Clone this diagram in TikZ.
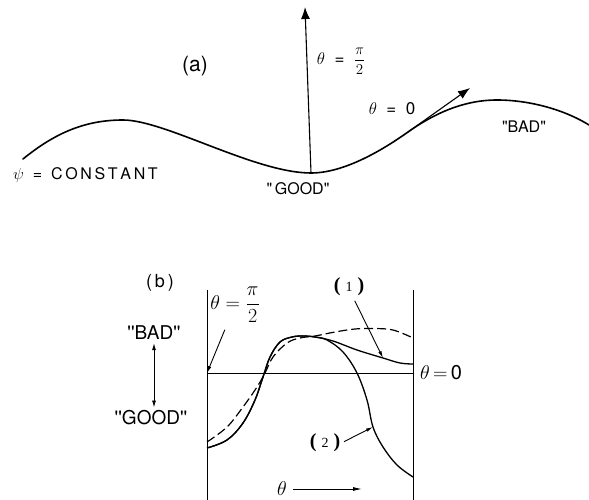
\RequirePackage{fix-cm}
\documentclass[tikz,border=0pt]{standalone}
\usepackage{fontspec}
\setmainfont{TeX Gyre Heros}[Ligatures=TeXOff]
\newfontfamily\numfont{Liberation Serif}
\usetikzlibrary{arrows.meta}
\begin{document}
\begin{tikzpicture}[x=1pt,y=-1pt,
  wave/.style={line width=1.6pt, line cap=round},
  bigarrow/.style={line width=1.1pt, -{Latex[length=12pt,width=9pt]}},
  frame/.style={line width=0.9pt},
  sol/.style={line width=1.3pt},
  dsh/.style={line width=1.2pt, dash pattern=on 9pt off 4pt},
  ptr/.style={line width=0.9pt, -{Latex[length=7pt,width=3.5pt]}},
  dbl/.style={line width=0.9pt, {Latex[length=7pt,width=4pt]}-{Latex[length=7pt,width=4pt]}},
  txt/.style={inner sep=1pt, font=\fontsize{16}{16}\selectfont},
  btxt/.style={inner sep=3pt, font=\fontsize{19}{19}\selectfont},
  mtxt/.style={inner sep=1pt, font=\fontsize{20}{20}\selectfont},
  numlbl/.style={inner sep=1pt, font=\numfont\fontsize{20}{20}\selectfont},
]
\useasboundingbox (0,0) rectangle (589,500);

% ---------- (a) ----------
\coordinate (trough) at (311,173);
\coordinate (tan) at (408,132);
\draw[wave] (23,159) .. controls (55,133) and (85,120) .. (123,120)
  .. controls (165,120) and (255,173) .. (trough)
  .. controls (345,173) and (384,149) .. (tan)
  .. controls (432,115) and (462,100) .. (497,100)
  .. controls (530,100) and (565,110) .. (589,125);
\coordinate (vtip) at (305,7);
\coordinate (tantip) at (470,88);
\draw[bigarrow] (trough) -- (vtip);
\draw[bigarrow] (tan) -- (tantip);

\node[mtxt, font=\fontsize{21}{21}\selectfont] (alab) at (195,66) {(a)};
\node[txt, font=\fontsize{17}{17}\selectfont] (thpiA) at (341,61) {$\theta$ \ = \ {\fontsize{15}{15}\selectfont$\displaystyle\frac{\pi}{2}$}};
\node[txt, font=\fontsize{17}{17}\selectfont] (th0A) at (392,109) {$\theta$ \ = \ 0};
\node[txt] (goodA) at (298,189) {"\,GOOD"};
\node[txt] (badA) at (524,127) {"BAD"};
\node[txt, anchor=west] (psi) at (12,175) {$\psi$ \ = \ C\,O\,N\,S\,T\,A\,N\,T};

% ---------- (b) ----------
\coordinate (TL) at (207,290);
\coordinate (BL) at (207,500);
\coordinate (TR) at (413,290);
\coordinate (BR) at (413,500);
\coordinate (ML) at (207,373);
\coordinate (MR) at (413,373);
\draw[frame] (TL) -- (BL);
\draw[frame] (TR) -- (BR);
\draw[frame] (ML) -- (MR);

% curves
\draw[dsh] plot[smooth, tension=0.6] coordinates {(207,442) (227,427) (243,407) (257,387) (265,373) (273,357) (287,343) (300,338) (315,336) (335,332) (355,329) (373,328.5) (393,330) (413,338)};
\draw[sol] plot[smooth, tension=0.6] coordinates {(207,448) (227,440) (243,423) (255,400) (263,377) (270,357) (280,342) (292,337) (303,336) (315,337) (333,341) (357,350) (383,358) (400,363) (413,364)};
\draw[sol] plot[smooth, tension=0.6] coordinates {(207,448) (227,440) (243,423) (255,400) (263,377) (270,357) (280,342) (292,337) (303,336) (315,337) (327,340) (343,352) (357,373) (367,400) (373,427) (383,447) (397,465) (413,477)};

\node[mtxt, font=\fontsize{18}{18}\selectfont] (blab) at (160,283) {(\,b\,)};
\node[btxt] (badB) at (154,333) {''BAD''};
\node[btxt] (goodB) at (151,418) {''GOOD''};
\draw[dbl] (badB.south) -- (badB.south |- goodB.north);

\node[mtxt] (thpiB) at (235,305) {$\theta=\displaystyle\frac{\pi}{2}$};
\draw[ptr, shorten <=6pt] (thpiB) -- (ML);
\node[mtxt, anchor=west] (th0B) at (419,373) {$\theta\,{=}\,$0};

\coordinate (c1) at (383,358);
\coordinate (c2) at (373,427);
\node[numlbl] (one) at (349,287) {\textbf{(}\hspace{5pt}{\fontsize{14}{14}\selectfont 1}\hspace{5pt}\textbf{)}};
\node[numlbl] (two) at (325,443) {\textbf{(}\hspace{5pt}{\fontsize{14}{14}\selectfont 2}\hspace{5pt}\textbf{)}};
\draw[ptr, shorten <=4pt] ([xshift=4pt]one.south) -- (c1);
\draw[ptr, shorten <=3pt] (two.east) -- (c2);

\node[mtxt, inner sep=0pt] (thC) at (282,489) {$\theta$};
\coordinate (thtip) at (362,489);
\draw[ptr, -{Latex[length=9pt,width=4pt]}, shorten <=6pt] (thC.east) -- (thtip);
\end{tikzpicture}
\end{document}
